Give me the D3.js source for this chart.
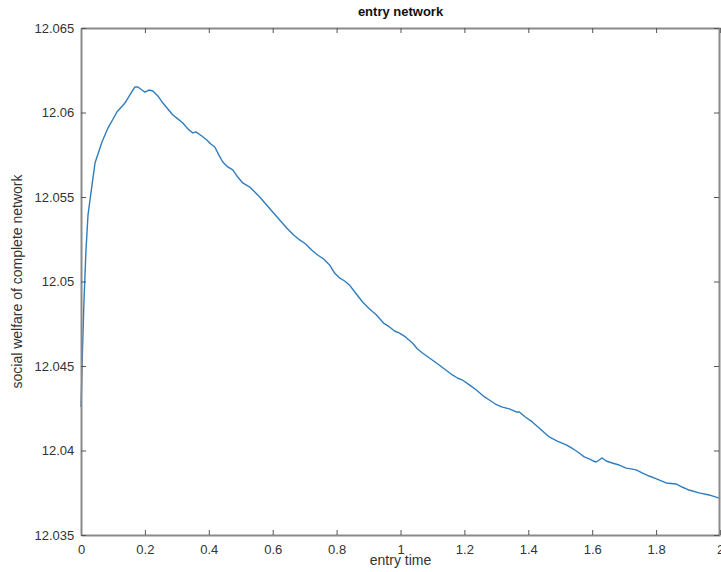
<!DOCTYPE html>
<html>
<head>
<meta charset="utf-8">
<script src="https://cdn.jsdelivr.net/npm/d3@7"></script>
<style>
  html, body { margin: 0; padding: 0; background: #fff; }
  svg { display: block; font-family: "Liberation Sans", Arial, Helvetica, sans-serif; }
</style>
</head>
<body>
<div id="chart"></div>
<script>
// ---- data ----
const entryTime = [0, 0.0016, 0.0047, 0.0094, 0.0156, 0.0219, 0.0281, 0.0438, 0.0656, 0.0844, 0.1125, 0.1375, 0.1531, 0.1688, 0.1781, 0.1906, 0.2, 0.2125, 0.225, 0.2406, 0.2563, 0.2719, 0.2875, 0.3031, 0.3188, 0.3344, 0.35, 0.3594, 0.3781, 0.3938, 0.4063, 0.4188, 0.4313, 0.4438, 0.4594, 0.475, 0.4906, 0.5063, 0.5281, 0.5438, 0.5594, 0.5781, 0.6, 0.6219, 0.6438, 0.6656, 0.6844, 0.7031, 0.7219, 0.7406, 0.7594, 0.7781, 0.7938, 0.8094, 0.825, 0.8406, 0.8594, 0.8813, 0.9031, 0.925, 0.9469, 0.9656, 0.9813, 0.9969, 1.0156, 1.0375, 1.0531, 1.0688, 1.0906, 1.1125, 1.1375, 1.1625, 1.1781, 1.1938, 1.2156, 1.2375, 1.2594, 1.2781, 1.2969, 1.3188, 1.3406, 1.3625, 1.3719, 1.3906, 1.4125, 1.4375, 1.4656, 1.4906, 1.5188, 1.5406, 1.5594, 1.575, 1.5906, 1.6031, 1.6125, 1.6219, 1.6313, 1.6438, 1.6625, 1.6844, 1.7063, 1.7219, 1.7375, 1.7563, 1.7781, 1.8031, 1.8313, 1.8625, 1.8813, 1.9031, 1.9344, 1.9656, 2.0];
const welfare = [12.04257, 12.04358, 12.04595, 12.04890, 12.05186, 12.05393, 12.05482, 12.05701, 12.05826, 12.05908, 12.06003, 12.06056, 12.06104, 12.06151, 12.06151, 12.06133, 12.06121, 12.06133, 12.06127, 12.06098, 12.06056, 12.06021, 12.05985, 12.05962, 12.05938, 12.05903, 12.05879, 12.05885, 12.05861, 12.05837, 12.05814, 12.05796, 12.05749, 12.05707, 12.05678, 12.05660, 12.05618, 12.05583, 12.05559, 12.05530, 12.05500, 12.05459, 12.05411, 12.05364, 12.05317, 12.05275, 12.05246, 12.05222, 12.05186, 12.05157, 12.05133, 12.05098, 12.05050, 12.05021, 12.05003, 12.04979, 12.04932, 12.04879, 12.04837, 12.04802, 12.04754, 12.04731, 12.04707, 12.04695, 12.04672, 12.04636, 12.04601, 12.04577, 12.04547, 12.04518, 12.04482, 12.04447, 12.04429, 12.04417, 12.04388, 12.04358, 12.04322, 12.04299, 12.04275, 12.04257, 12.04246, 12.04228, 12.04228, 12.04198, 12.04169, 12.04127, 12.04080, 12.04056, 12.04033, 12.04009, 12.03985, 12.03962, 12.03950, 12.03938, 12.03932, 12.03944, 12.03956, 12.03938, 12.03926, 12.03914, 12.03896, 12.03891, 12.03885, 12.03867, 12.03849, 12.03831, 12.03808, 12.03802, 12.03784, 12.03766, 12.03749, 12.03737, 12.03717];
const xTicks = [0, 0.2, 0.4, 0.6, 0.8, 1, 1.2, 1.4, 1.6, 1.8, 2];
const xTickLabels = ["0", "0.2", "0.4", "0.6", "0.8", "1", "1.2", "1.4", "1.6", "1.8", "2"];
const yTicks = [12.035, 12.04, 12.045, 12.05, 12.055, 12.06, 12.065];
const yTickLabels = ["12.035", "12.04", "12.045", "12.05", "12.055", "12.06", "12.065"];
const titleText = "entry network";
const xLabelText = "entry time";
const yLabelText = "social welfare of complete network";

// ---- layout ----
const W = 721, H = 572;
const margin = { left: 81, right: 1, top: 28, bottom: 37 };
const x0 = margin.left, x1 = W - margin.right, y0 = margin.top, y1 = H - margin.bottom;

const x = d3.scaleLinear().domain([0, 2]).range([x0, x1]);
const y = d3.scaleLinear().domain([12.035, 12.065]).range([y1, y0]);

const svg = d3.select("#chart").append("svg").attr("width", W).attr("height", H);

const axisColor = "#8a8a8a";
const textColor = "#333333";
const tickLen = 5;

// curve
const data = entryTime.map((t, i) => ({ t, v: welfare[i] }));
svg.append("path")
  .datum(data)
  .attr("fill", "none")
  .attr("stroke", "#2f7dbd")
  .attr("stroke-width", 1.4)
  .attr("stroke-linejoin", "round")
  .attr("d", d3.line().x(d => x(d.t)).y(d => y(d.v)));

// axes (inward ticks, box)
const fmtX = (d, i) => xTickLabels[i];
const fmtY = (d, i) => yTickLabels[i];

const gBottom = svg.append("g").attr("transform", `translate(0,${y1})`)
  .call(d3.axisBottom(x).tickValues(xTicks).tickFormat(fmtX).tickSizeInner(-tickLen).tickSizeOuter(0).tickPadding(10));
const gTop = svg.append("g").attr("transform", `translate(0,${y0})`)
  .call(d3.axisTop(x).tickValues(xTicks).tickFormat("").tickSizeInner(-tickLen).tickSizeOuter(0));
const gLeft = svg.append("g").attr("transform", `translate(${x0},0)`)
  .call(d3.axisLeft(y).tickValues(yTicks).tickFormat(fmtY).tickSizeInner(-tickLen).tickSizeOuter(0).tickPadding(10));
const gRight = svg.append("g").attr("transform", `translate(${x1 - 1},0)`)
  .call(d3.axisRight(y).tickValues(yTicks).tickFormat("").tickSizeInner(-tickLen).tickSizeOuter(0));

[gBottom, gTop, gLeft, gRight].forEach(g => {
  g.select(".domain").attr("stroke", axisColor).attr("stroke-width", 2);
  g.selectAll(".tick line").attr("stroke", "#555").attr("stroke-width", 1);
  g.selectAll(".tick text").attr("fill", textColor).attr("font-size", 13)
    .attr("font-family", "'Liberation Sans', Arial, sans-serif");
});
gLeft.selectAll(".tick text").attr("dx", "0.25em");

// title & labels
svg.append("text")
  .attr("x", (x0 + x1) / 2).attr("y", 16)
  .attr("text-anchor", "middle")
  .attr("font-size", 13).attr("font-weight", "bold").attr("fill", "#111")
  .text(titleText);

svg.append("text")
  .attr("x", (x0 + x1) / 2).attr("y", 565)
  .attr("text-anchor", "middle")
  .attr("font-size", 14).attr("fill", textColor)
  .text(xLabelText);

svg.append("text")
  .attr("transform", `translate(22,${(y0 + y1) / 2}) rotate(-90)`)
  .attr("text-anchor", "middle")
  .attr("font-size", 14).attr("fill", textColor)
  .text(yLabelText);
</script>
</body>
</html>
